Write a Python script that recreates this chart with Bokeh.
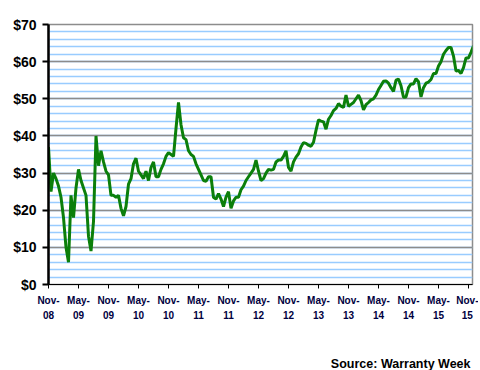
import numpy as np
from bokeh.plotting import figure
from bokeh.models import (SingleIntervalTicker, FixedTicker, Range1d, Title,
                          ColumnDataSource)
from bokeh.embed import file_html
from bokeh.resources import INLINE

price = [
    37, 25, 30, 28.5, 26.5, 23.5, 18, 10, 6, 24,
    18, 26, 31, 28, 26, 24, 13, 9, 17, 40,
    32, 36, 33, 30.5, 29.5, 24, 24, 23.5, 24, 20.5,
    18.5, 21, 27, 28.5, 32.5, 34, 30.5, 29.5, 28.5, 30.5,
    28, 31.5, 33, 29, 29, 31, 32.5, 34.5, 35.5, 35,
    34.5, 42, 49, 43, 39.5, 39, 36, 35, 34.5, 32.5,
    31, 29.5, 28, 27.8, 29, 29, 23.5, 23, 24.5, 23,
    21, 23.5, 25, 20.5, 22.5, 23.5, 23.5, 25.5, 26.5, 28,
    29, 30, 31, 33.5, 30.5, 28, 28.5, 30, 31, 30.8,
    31, 33, 33.5, 33.5, 34.5, 36, 31.5, 30.5, 33, 34.3,
    35.2, 37, 38.2, 38, 37.5, 37.2, 38.3, 41.5, 44.3, 44,
    43.8, 41.8, 44.5, 45.5, 46.8, 47.4, 48.7, 48, 47.7, 51,
    48, 48.5, 49, 50, 51, 49.5, 47, 48.4, 49, 49.7,
    50, 51, 52.5, 53.6, 54.7, 54.8, 54.2, 53, 52, 55,
    55.3, 53.5, 50.4, 50.5, 53, 54, 54, 55.4, 54.6, 50.5,
    53, 54.2, 54.5, 55.2, 56.8, 56.8, 58.8, 60, 62, 63,
    63.8, 63.8, 61.5, 57.5, 57.6, 56.8, 58.4, 61, 61, 62.5,
    64.3,
]
months = np.arange(len(price)) * 0.5  # months since Nov 2008

tick_months = [0, 6, 12, 18, 24, 30, 36, 42, 48, 54, 60, 66, 72, 78, 84]
tick_labels = ["Nov-\n08", "May-\n09", "Nov-\n09", "May-\n10", "Nov-\n10",
               "May-\n11", "Nov-\n11", "May-\n12", "Nov-\n12", "May-\n13",
               "Nov-\n13", "May-\n14", "Nov-\n14", "May-\n15", "Nov-\n15"]
y_ticks = [0, 10, 20, 30, 40, 50, 60, 70]
y_labels = ["$0", "$10", "$20", "$30", "$40", "$50", "$60", "$70"]
source_note = "Source: Warranty Week"

FONT = "Liberation Sans"

p = figure(width=478, height=370, output_backend="svg", toolbar_location=None,
           x_range=Range1d(0, 84.8), y_range=Range1d(0, 70),
           min_border_left=48, min_border_right=6, min_border_top=24,
           min_border_bottom=85)
p.background_fill_color = "white"
p.border_fill_color = "white"
p.outline_line_color = "#8c8c8c"
p.outline_line_width = 1.5

src = ColumnDataSource(dict(x=months, y=price))
p.line("x", "y", source=src, line_color="#0b7f0b", line_width=3)

# grids
p.xgrid.visible = False
p.yaxis.ticker = SingleIntervalTicker(interval=10, num_minor_ticks=5)
p.ygrid.grid_line_color = "#8c8c8c"
p.ygrid.grid_line_width = 1.5
p.ygrid.minor_grid_line_color = "#99ccff"
p.ygrid.minor_grid_line_width = 1.5

# y axis
p.yaxis.major_label_overrides = dict(zip(y_ticks, y_labels))
p.yaxis.major_label_text_font = FONT
p.yaxis.major_label_text_font_style = "bold"
p.yaxis.major_label_text_font_size = "14px"
p.yaxis.major_label_text_color = "black"
p.yaxis.axis_line_color = "black"
p.yaxis.axis_line_width = 2.5
p.yaxis.major_tick_line_color = "black"
p.yaxis.major_tick_line_width = 2
p.yaxis.major_tick_out = 6
p.yaxis.major_tick_in = 0
p.yaxis.minor_tick_line_color = None
p.yaxis.major_label_standoff = 6

# x axis (two trailing empty lines leave room above the source note)
xax = p.xaxis[0]
xax.ticker = FixedTicker(ticks=tick_months)
xax.major_label_overrides = {m: lab + "\n\n" for m, lab in zip(tick_months, tick_labels)}
xax.major_label_text_font = FONT
xax.major_label_text_font_style = "bold"
xax.major_label_text_font_size = "10px"
xax.major_label_text_color = "#000040"
xax.major_label_text_line_height = 1.4
xax.axis_line_color = "black"
xax.axis_line_width = 1
xax.major_tick_line_color = "black"
xax.major_tick_out = 4
xax.major_tick_in = 0
xax.minor_tick_line_color = None
xax.major_label_standoff = 6

p.add_layout(Title(text=source_note, align="right", text_font=FONT,
                   text_font_style="bold", text_font_size="12.5px",
                   text_color="black", standoff=0, offset=2), "below")

open("out.html", "w").write(file_html(p, INLINE))
